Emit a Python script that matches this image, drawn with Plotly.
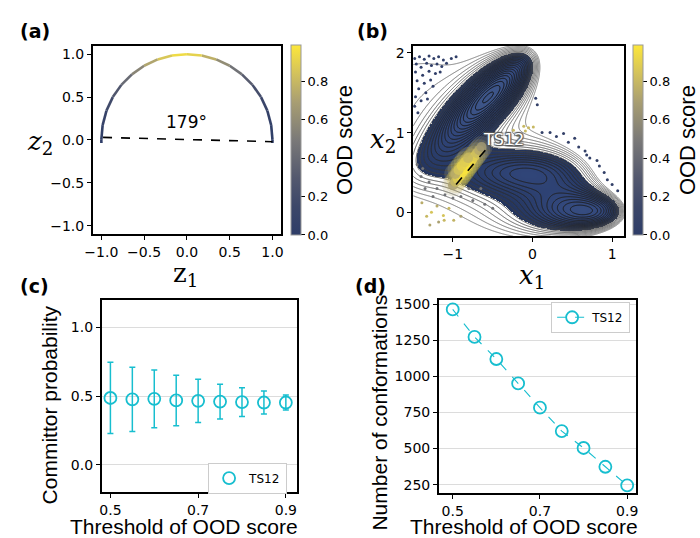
import numpy as np
import plotly.graph_objects as go
from plotly.colors import sample_colorscale

# ---------------- data ----------------
# (a) latent circle: angle (deg) and OOD score along the arc
arc_angle_deg = [-2, 0, 10, 20, 30, 40, 50, 60, 70, 80, 90, 100, 110, 120, 130, 140, 150, 160, 170, 180, 182]
arc_ood = [0.0, 0.01, 0.04, 0.09, 0.16, 0.26, 0.38, 0.52, 0.68, 0.85, 0.96, 0.92, 0.80, 0.64, 0.48, 0.34, 0.22, 0.13, 0.06, 0.02, 0.0]
angle_line_z1 = [-0.98, 1.0]
angle_line_z2 = [0.03, -0.02]
angle_label = "179°"
angle_label_pos = (0.0, 0.21)

# (b) Mueller-Brown potential parameters
mb_A = [-200, -100, -170, 15]
mb_a = [-1, -1, -6.5, 0.7]
mb_b = [0, 0, 11, 0.6]
mb_c = [-10, -10, -6.5, 0.7]
mb_x0 = [1, 0, -0.5, -1]
mb_y0 = [0, 0.5, 1.5, 1]
contour_start, contour_end, contour_step = -145, 26, 7
dense_threshold = -20

ts_x = [-0.96, -0.55]
ts_y = [0.35, 0.83]
ts_label = "TS12"
ts_label_pos = (-0.37, 0.91)

glow_x = [-1.0, -0.97, -0.94, -0.91, -0.88, -0.85, -0.82, -0.79, -0.76, -0.73, -0.70, -0.67, -0.64,
          -0.97, -0.93, -0.89, -0.85, -0.81]
glow_y = [0.34, 0.38, 0.42, 0.46, 0.50, 0.54, 0.58, 0.62, 0.66, 0.70, 0.74, 0.78, 0.82,
          0.48, 0.53, 0.58, 0.63, 0.68]
glow_ood = [0.70, 0.80, 0.88, 0.94, 0.97, 0.98, 0.98, 0.96, 0.93, 0.88, 0.82, 0.74, 0.66,
            0.75, 0.85, 0.90, 0.88, 0.80]

dots_x = [-1.48, -1.42, -1.36, -1.30, -1.24, -1.18, -1.12, -1.46, -1.40, -1.33, -1.27, -1.20, -1.14, -1.08,
          -1.47, -1.38, -1.30, -1.22, -1.45, -1.36, -1.28, -1.43, -1.34, -1.47, -1.40, -1.48, -1.02, -0.96,
          -1.16, -1.25, -1.32, -1.44,
          0.12, 0.22, 0.39, 0.53, 0.06, 0.04, 0.68, 0.84, 0.94, 1.07, 0.66, 0.81, 0.30, 0.45, 0.58, 0.72, 0.90, 1.00,
          -1.39, -1.27, -1.18, -1.11, -1.29, -0.99, -1.12, -1.05, -1.20, -0.90, -1.33,
          -0.11, -0.05, 0.01, -0.09, -0.24, -0.30, -0.18,
          -1.40, -1.30, -1.20, -1.10, -1.00, -0.90, -0.75, -0.60, -0.50, -1.35, -1.25, -0.80, -0.65, -1.45, -1.38]
dots_y = [1.93, 1.95, 1.92, 1.96, 1.93, 1.95, 1.91, 1.86, 1.82, 1.87, 1.84, 1.86, 1.83, 1.87,
          1.76, 1.72, 1.77, 1.74, 1.65, 1.62, 1.66, 1.55, 1.50, 1.45, 1.40, 1.33, 1.93, 1.95,
          1.76, 1.58, 1.42, 1.25,
          1.00, 1.00, 0.99, 0.93, 1.35, 1.43, 0.72, 0.58, 0.41, 0.27, 0.77, 0.65, 0.95, 0.88, 0.82, 0.68, 0.50, 0.35,
          0.12, 0.00, -0.12, -0.10, -0.16, -0.10, -0.04, 0.05, 0.08, -0.05, -0.05,
          1.08, 1.06, 1.07, 1.02, 1.03, 0.98, 0.97,
          0.45, 0.38, 0.30, 0.22, 0.18, 0.20, 0.15, 0.10, 0.05, 0.30, 0.20, 0.30, 0.30, 0.60, 0.55]
dots_ood = [0.02] * 32 + [0.05] * 18 + [0.75, 0.85, 0.7, 0.8, 0.72, 0.78, 0.85, 0.8, 0.75, 0.7, 0.8] + [0.8] * 7 + [0.45] * 15

# (c) committor probability
threshold = [0.5, 0.55, 0.6, 0.65, 0.7, 0.75, 0.8, 0.85, 0.9]
committor_mean = [0.486, 0.476, 0.480, 0.468, 0.465, 0.460, 0.456, 0.453, 0.453]
committor_err = [0.259, 0.233, 0.210, 0.183, 0.158, 0.126, 0.105, 0.083, 0.055]

# (d) number of conformations
n_conf = [1463, 1273, 1120, 951, 783, 621, 504, 374, 245]

# ---------------- styling ----------------
W, H = 700, 538
CSCALE = [[0, '#2e3d68'], [0.15, '#3c4769'], [0.3, '#53586e'], [0.5, '#7a7978'],
          [0.7, '#a89e72'], [0.85, '#d3c25c'], [1, '#fde73a']]
CMAX = 0.99
CYAN = '#17becf'
TICKFONT = dict(family='DejaVu Sans', size=14, color='black')
TITLEFONT = dict(family='Liberation Sans', size=21, color='black')


def px(x):
    return x / W


def py(y):
    return 1 - y / H


fig = go.Figure()

# ---- (a) ----
for i in range(len(arc_angle_deg) - 1):
    t = np.radians([arc_angle_deg[i], arc_angle_deg[i + 1]])
    v = (arc_ood[i] + arc_ood[i + 1]) / 2 / CMAX
    col = sample_colorscale(CSCALE, [min(max(v, 0), 1)])[0]
    fig.add_trace(go.Scatter(x=np.cos(t), y=np.sin(t), mode='lines',
                             line=dict(color=col, width=2.6), showlegend=False,
                             hoverinfo='skip', xaxis='x', yaxis='y'))
arc_t = np.radians(arc_angle_deg)
fig.add_trace(go.Scatter(x=np.cos(arc_t), y=np.sin(arc_t), mode='markers',
                         marker=dict(color=arc_ood, coloraxis='coloraxis', opacity=0, size=1),
                         showlegend=False, xaxis='x', yaxis='y'))
fig.add_trace(go.Scatter(x=angle_line_z1, y=angle_line_z2, mode='lines',
                         line=dict(color='black', width=1.6, dash='dash'),
                         showlegend=False, xaxis='x', yaxis='y'))

# ---- (b) ----
gx = np.linspace(-1.5, 1.15, 340)
gy = np.linspace(-0.3, 2.09, 310)
XX, YY = np.meshgrid(gx, gy)
V = np.zeros_like(XX)
for A, a, b, c, x0, y0 in zip(mb_A, mb_a, mb_b, mb_c, mb_x0, mb_y0):
    V += A * np.exp(a * (XX - x0) ** 2 + b * (XX - x0) * (YY - y0) + c * (YY - y0) ** 2)

dense = np.where(V < dense_threshold, V, np.nan)
fig.add_trace(go.Heatmap(x=gx, y=gy, z=dense, zmin=-150, zmax=dense_threshold,
                         colorscale=[[0, '#3e5689'], [0.5, '#31467a'], [1, '#23345c']],
                         showscale=False, hoverinfo='skip', xaxis='x2', yaxis='y2'))
fig.add_trace(go.Scatter(x=glow_x, y=glow_y, mode='markers',
                         marker=dict(color=glow_ood, coloraxis='coloraxis2', size=22, opacity=0.22,
                                     line=dict(width=0)),
                         showlegend=False, hoverinfo='skip', xaxis='x2', yaxis='y2'))
fig.add_trace(go.Scatter(x=glow_x, y=glow_y, mode='markers',
                         marker=dict(color=glow_ood, coloraxis='coloraxis2', size=10, opacity=0.85,
                                     line=dict(width=0)),
                         showlegend=False, hoverinfo='skip', xaxis='x2', yaxis='y2'))
fig.add_trace(go.Contour(x=gx, y=gy, z=V, zauto=False, zmin=contour_start, zmax=contour_end,
                         contours=dict(start=contour_start, end=contour_end, size=contour_step,
                                       coloring='lines'),
                         colorscale=[[0, '#0e0e0e'], [0.6, '#2a2a2a'], [1, '#7e7e7e']],
                         line=dict(width=1.0), showscale=False, hoverinfo='skip',
                         xaxis='x2', yaxis='y2'))
fig.add_trace(go.Scatter(x=dots_x, y=dots_y, mode='markers',
                         marker=dict(color=dots_ood, coloraxis='coloraxis2', size=3, line=dict(width=0)),
                         showlegend=False, xaxis='x2', yaxis='y2'))
fig.add_trace(go.Scatter(x=ts_x, y=ts_y, mode='lines',
                         line=dict(color='black', width=1.6, dash='dash'),
                         showlegend=False, xaxis='x2', yaxis='y2'))

# ---- (c) ----
fig.add_trace(go.Scatter(x=threshold, y=committor_mean, mode='markers', name='TS12',
                         marker=dict(symbol='circle-open', size=12, color=CYAN, line=dict(width=1.8)),
                         error_y=dict(type='data', array=committor_err, color=CYAN, thickness=1.5, width=3),
                         legend='legend', xaxis='x3', yaxis='y3'))

# ---- (d) ----
fig.add_trace(go.Scatter(x=threshold, y=n_conf, mode='lines+markers', name='TS12',
                         line=dict(color=CYAN, width=1.1, dash='dash'),
                         marker=dict(symbol='circle-open', size=12, color=CYAN, line=dict(width=1.8)),
                         legend='legend2', xaxis='x4', yaxis='y4'))

common = dict(showline=True, linecolor='black', linewidth=1.5, mirror=True, ticks='outside',
              ticklen=4, tickwidth=1.2, tickcolor='black', tickfont=TICKFONT,
              showgrid=False, zeroline=False)

minus = '\u2212'


def colorbar(xleft):
    return dict(thickness=10, thicknessmode='pixels', len=190, lenmode='pixels',
                x=px(xleft), xanchor='left', y=py(137), yanchor='middle', xpad=0, ypad=0,
                tickvals=[0, 0.2, 0.4, 0.6, 0.8], ticktext=['0.0', '0.2', '0.4', '0.6', '0.8'],
                ticks='outside', ticklen=4, tickcolor='black',
                tickfont=dict(family='DejaVu Sans', size=13, color='black'),
                outlinewidth=1, outlinecolor='#999999')


fig.update_layout(
    width=W, height=H, autosize=False,
    margin=dict(l=0, r=0, t=0, b=0),
    paper_bgcolor='white', plot_bgcolor='white',
    coloraxis=dict(colorscale=CSCALE, cmin=0, cmax=CMAX, colorbar=colorbar(287)),
    coloraxis2=dict(colorscale=CSCALE, cmin=0, cmax=CMAX, colorbar=colorbar(634)),
    xaxis=dict(common, domain=[px(86), px(277)], range=[-1.1, 1.1], anchor='y',
               tickvals=[-1, -0.5, 0, 0.5, 1],
               ticktext=[minus + '1.0', minus + '0.5', '0.0', '0.5', '1.0']),
    yaxis=dict(common, domain=[py(232), py(42)], range=[-1.1, 1.1], anchor='x',
               tickvals=[-1, -0.5, 0, 0.5, 1],
               ticktext=[minus + '1.0', minus + '0.5', '0.0', '0.5', '1.0']),
    xaxis2=dict(common, domain=[px(411), px(625)], range=[-1.5, 1.15], anchor='y2',
                tickvals=[-1, 0, 1], ticktext=[minus + '1', '0', '1']),
    yaxis2=dict(common, domain=[py(234), py(42)], range=[-0.3, 2.09], anchor='x2',
                tickvals=[0, 1, 2], ticktext=['0', '1', '2']),
    xaxis3=dict(common, domain=[px(95), px(293)], range=[0.48, 0.925], anchor='y3',
                tickvals=[0.5, 0.7, 0.9], ticktext=['0.5', '0.7', '0.9']),
    yaxis3=dict(common, domain=[py(492), py(298)], range=[-0.2, 1.2], anchor='x3',
                tickvals=[0, 0.5, 1], ticktext=['0.0', '0.5', '1.0'],
                showgrid=True, gridcolor='#dcdcdc', gridwidth=1),
    xaxis4=dict(common, domain=[px(437), px(637)], range=[0.468, 0.92], anchor='y4',
                tickvals=[0.5, 0.7, 0.9], ticktext=['0.5', '0.7', '0.9']),
    yaxis4=dict(common, domain=[py(493), py(298)], range=[190, 1530], anchor='x4',
                tickvals=[250, 500, 750, 1000, 1250, 1500],
                showgrid=True, gridcolor='#dcdcdc', gridwidth=1),
    legend=dict(x=px(203), y=py(462), xanchor='left', yanchor='top',
                bordercolor='#cccccc', borderwidth=1, bgcolor='white',
                font=dict(family='DejaVu Sans', size=12, color='black')),
    legend2=dict(x=px(551), y=py(300), xanchor='left', yanchor='top',
                 bordercolor='#cccccc', borderwidth=1, bgcolor='white',
                 font=dict(family='DejaVu Sans', size=12, color='black')),
)

ann = []


def paper_text(text, x, y, font, angle=0):
    ann.append(dict(text=text, x=px(x), y=py(y), xref='paper', yref='paper',
                    xanchor='center', yanchor='middle', showarrow=False,
                    font=font, textangle=angle))


panel_font = dict(family='DejaVu Sans', size=19, color='black', weight='bold')
paper_text('<b>(a)</b>', 27, 27, panel_font)
paper_text('<b>(b)</b>', 370, 27, panel_font)
paper_text('<b>(c)</b>', 27, 284, panel_font)
paper_text('<b>(d)</b>', 368, 284, panel_font)

math_font = dict(family='DejaVu Serif', size=26, color='black')
paper_text('<i>z</i><sub>2</sub>', 32, 140, math_font)
paper_text('z<sub>1</sub>', 180, 273, math_font)
paper_text('<i>x</i><sub>2</sub>', 380, 138, math_font)
paper_text('<i>x</i><sub>1</sub>', 532, 275, math_font)

cb_title_font = dict(family='Liberation Sans', size=22, color='black')
paper_text('OOD score', 342, 137, cb_title_font, -90)
paper_text('OOD score', 690, 137, cb_title_font, -90)

paper_text('Committor probability', 43, 404, TITLEFONT, -90)
paper_text('Number of conformations', 377, 412, TITLEFONT, -90)
paper_text('Threshold of OOD score', 179, 526, TITLEFONT)
paper_text('Threshold of OOD score', 523, 526, TITLEFONT)

ann.append(dict(text=angle_label, x=angle_label_pos[0], y=angle_label_pos[1], xref='x', yref='y',
                showarrow=False, font=dict(family='DejaVu Sans', size=17, color='black')))
ann.append(dict(text=ts_label, x=ts_label_pos[0], y=ts_label_pos[1], xref='x2', yref='y2',
                showarrow=False,
                font=dict(family='DejaVu Sans', size=16, color='white',
                          shadow='1px 1px 1px #555, -1px -1px 1px #555, 1px -1px 1px #555, -1px 1px 1px #555')))
fig.update_layout(annotations=ann)

fig.write_html('out.html')
